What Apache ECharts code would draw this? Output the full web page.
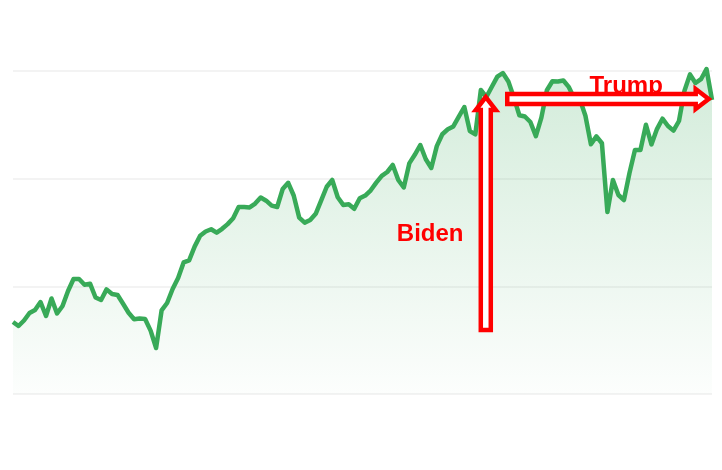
<!DOCTYPE html>
<html>
<head>
<meta charset="utf-8">
<script src="https://cdn.jsdelivr.net/npm/echarts@6/dist/echarts.min.js"></script>
<style>html,body{margin:0;padding:0;background:#fff}#c{width:722px;height:470px}</style>
</head>
<body>
<div id="c"></div>
<script>
// Index level values, evenly spaced sessions
const values = [
33344,33158,33413,33762,33901,34272,33622,34435,33738,34087,
34783,35341,35341,35074,35122,34481,34365,34858,34644,34598,
34191,33773,33474,33506,33483,32944,32136,33882,34226,34876,
35387,36112,36209,36845,37347,37547,37651,37491,37672,37890,
38162,38684,38684,38666,38842,39125,38977,38747,38684,39520,
39808,39218,38192,37960,38081,38368,38991,39625,39938,39135,
38782,38814,38601,39088,39214,39460,39813,40129,40310,40635,
39938,39590,40709,41108,41564,40904,40495,41512,42065,42293,
42427,42876,43328,42209,42056,44118,43793,44269,44735,44907,
44517,43765,42947,42887,42632,41977,42836,44106,44522,44512,
44559,44248,43714,43677,42920,41596,41963,41645,38452,39938,
39242,39009,40249,41331,41331,42502,41591,42302,42785,42446,
42232,42678,44085,44842,44443,44619,45093,43653
];
const categories = values.map((_, i) => String(i));
const yTicks = { min: 30000, max: 45000, interval: 5000 };

// Annotations in data terms (category index, value)
const bidenArrow = { index: 85.9, from: 32972, to: 43790 };
const trumpArrow = { from: 89.8, to: 126.4, value: 43700 };
const bidenLabel = { text: 'Biden', index: 75.8, value: 37430 };
const trumpLabel = { text: 'Trump', index: 111.4, value: 44300 };

const chart = echarts.init(document.getElementById('c'), null, { renderer: 'canvas' });
const green = '#38aa58';
const red = '#ff0000';

chart.setOption({
  animation: false,
  backgroundColor: '#fff',
  grid: { left: 13, right: 10, top: 71, bottom: 76, containLabel: false },
  xAxis: {
    type: 'category', data: categories, boundaryGap: false,
    axisLine: { show: false }, axisTick: { show: false }, axisLabel: { show: false },
    splitLine: { show: false }
  },
  yAxis: {
    type: 'value', min: yTicks.min, max: yTicks.max, interval: yTicks.interval,
    axisLine: { show: false }, axisTick: { show: false }, axisLabel: { show: false },
    splitLine: { show: true, lineStyle: { color: '#f3f3f3', width: 2 } }
  },
  series: [{
    type: 'line', data: values, showSymbol: false, symbol: 'none', clip: false,
    lineStyle: { color: green, width: 4.5, join: 'round' },
    areaStyle: {
      color: new echarts.graphic.LinearGradient(0, 0, 0, 1, [
        { offset: 0, color: 'rgba(58,169,90,0.32)' },
        { offset: 1, color: 'rgba(58,169,90,0.02)' }
      ])
    }
  }]
});

function px(index, value) {
  const n = values.length - 1;
  const a = chart.convertToPixel({ xAxisIndex: 0, yAxisIndex: 0 }, [0, value]);
  const b = chart.convertToPixel({ xAxisIndex: 0, yAxisIndex: 0 }, [n, value]);
  return [a[0] + (b[0] - a[0]) * index / n, a[1]];
}

const shaft = 5, head = 10, headLen = 13;
const bTip = px(bidenArrow.index, bidenArrow.to);
const bBot = px(bidenArrow.index, bidenArrow.from);
const cx = bTip[0];
const bPoints = [
  [cx, bTip[1]], [cx + head, bTip[1] + headLen], [cx + shaft, bTip[1] + headLen],
  [cx + shaft, bBot[1]], [cx - shaft, bBot[1]], [cx - shaft, bTip[1] + headLen],
  [cx - head, bTip[1] + headLen]
];
const tL = px(trumpArrow.from, trumpArrow.value);
const tR = px(trumpArrow.to, trumpArrow.value);
const cy = tL[1];
const tPoints = [
  [tR[0], cy], [tR[0] - headLen, cy - head], [tR[0] - headLen, cy - shaft],
  [tL[0], cy - shaft], [tL[0], cy + shaft], [tR[0] - headLen, cy + shaft],
  [tR[0] - headLen, cy + head]
];
const bl = px(bidenLabel.index, bidenLabel.value);
const tl = px(trumpLabel.index, trumpLabel.value);
const font = 'bold 24px "Liberation Sans", Arial, sans-serif';

chart.setOption({
  graphic: [
    { type: 'polygon', z: 100, shape: { points: bPoints },
      style: { fill: '#fff', stroke: red, lineWidth: 4.5, lineJoin: 'miter' } },
    { type: 'polygon', z: 100, shape: { points: tPoints },
      style: { fill: '#fff', stroke: red, lineWidth: 4.5, lineJoin: 'miter' } },
    { type: 'text', z: 101, x: bl[0], y: bl[1],
      style: { text: bidenLabel.text, fill: red, font: font, align: 'center', verticalAlign: 'middle' } },
    { type: 'text', z: 99, x: tl[0], y: tl[1],
      style: { text: trumpLabel.text, fill: red, font: font, align: 'center', verticalAlign: 'middle' } }
  ]
});
</script>
</body>
</html>
